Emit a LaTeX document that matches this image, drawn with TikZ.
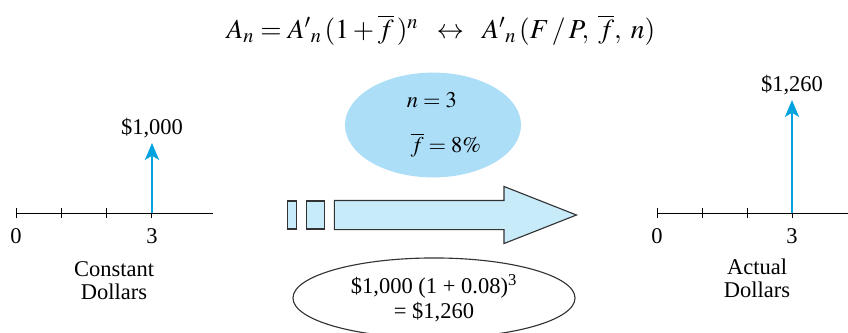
\documentclass[tikz,border=0pt]{standalone}
\usepackage{mathptmx}
\usepackage{fontspec}
\setmainfont{Liberation Serif}
\usetikzlibrary{shapes.geometric, shapes.arrows, arrows.meta, positioning, calc}
\usepackage{xcolor}
\definecolor{cashblue}{RGB}{0, 163, 224}
\definecolor{ovalblue}{RGB}{172, 222, 247}
\definecolor{shaftblue}{RGB}{200, 235, 250}

\begin{document}
\begin{tikzpicture}[
    x=0.025cm, y=-0.025cm,
    lbl/.style={
        align=center,
        inner sep=2pt,
        font=\fontsize{16}{16.5}\selectfont
    },
    axis/.style={draw, line width=0.7pt},
    tick/.style={draw, line width=0.7pt},
    cash/.style={draw=cashblue, line width=1.8pt, -{Stealth[length=12pt, width=10pt, inset=3pt]}},
    oval/.style={
        ellipse,
        fill=ovalblue,
        minimum width=4.4cm,
        minimum height=2.6cm,
        align=left,
        font=\fontsize{16}{18}\selectfont
    },
    result/.style={
        ellipse,
        draw=black!80,
        thick,
        fill=white,
        minimum width=7.05cm,
        minimum height=1.75cm,
        align=center,
        font=\fontsize{16}{17.5}\selectfont
    },
    bar/.style={
        rectangle,
        draw=black!80,
        thick,
        fill=shaftblue,
        inner sep=0pt,
        minimum height=0.7cm
    }
]
    \useasboundingbox (0,0) rectangle (848,332);

    % Formula
    \node[font=\fontsize{19.5}{22}\selectfont] (formula) at (441,30)
        {$A_n = A'{}_n\,(1 + \overline{f}\,)^n \;\;\leftrightarrow\;\; A'{}_n\,(F\,/\,P,\;\overline{f},\;n)$};

    % Constant dollars
    \coordinate (l0) at (16,213);
    \coordinate (lend) at (213,213);
    \coordinate (l3) at (152,213);
    \coordinate (ltip) at (152,143);
    \path [axis] (l0) -- (lend);
    \foreach \t in {0,...,3}
        \path [tick] ($(l0)+(45.3*\t,-5)$) -- ($(l0)+(45.3*\t,5)$);
    \node[lbl, below=0.32cm of l0] (lzero) {0};
    \node[lbl, below=0.32cm of l3] (lthree) {3};
    \path [cash] (l3) -- (ltip);
    \node[lbl, above=0.05cm of ltip] (lamount) {\$1,000};
    \node[lbl] (constant) at (114,281) {Constant\\Dollars};

    % Conversion
    \node[oval] (inputs) at (433,125) {\hspace*{0.55cm}$n = 3$\\[14pt]\hspace*{0.55cm}\,$\overline{f} = 8\%$};
    \node[single arrow, draw=black!80, thick, fill=shaftblue,
          inner xsep=0pt, inner ysep=0.35cm, minimum height=6.05cm, minimum width=1.4cm,
          single arrow head extend=0.35cm, single arrow tip angle=43,
          anchor=tip] (convert) at (578,215) {};
    \node[bar, minimum width=0.45cm, left=0.225cm of convert.tail] (bartwo) {};
    \node[bar, minimum width=0.225cm, left=0.225cm of bartwo] (barone) {};
    \node[result] (calc) at (434,298) {\$1,000 (1 + 0.08)\textsuperscript{3}\\= \$1,260};

    % Actual dollars
    \coordinate (r0) at (657,213);
    \coordinate (rend) at (848,213);
    \coordinate (r3) at (792,213);
    \coordinate (rtip) at (792,100);
    \path [axis] (r0) -- (rend);
    \foreach \t in {0,...,3}
        \path [tick] ($(r0)+(45*\t,-5)$) -- ($(r0)+(45*\t,5)$);
    \node[lbl, below=0.32cm of r0] (rzero) {0};
    \node[lbl, below=0.32cm of r3] (rthree) {3};
    \path [cash] (r3) -- (rtip);
    \node[lbl, above=0.05cm of rtip] (ramount) {\$1,260};
    \node[lbl] (actual) at (757,278) {Actual\\Dollars};

\end{tikzpicture}
\end{document}
